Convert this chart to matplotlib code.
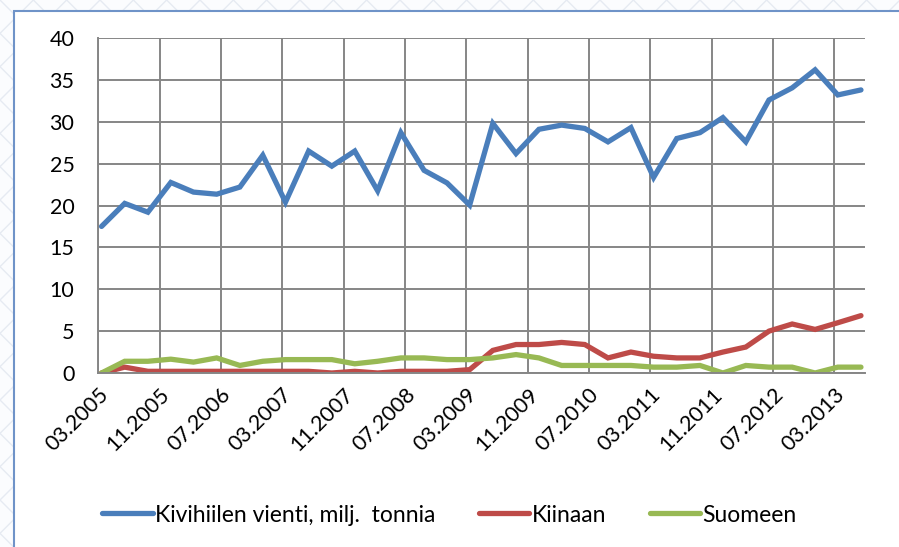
import datetime as dt
import matplotlib
matplotlib.use("Agg")
import matplotlib.pyplot as plt
import matplotlib.dates as mdates
from matplotlib.patches import Rectangle

# quarterly observations 03.2005 ... 06.2013 (mid-month)
months = [dt.date(2005 + (2 + 3 * i) // 12, (2 + 3 * i) % 12 + 1, 15) for i in range(34)]

vienti = [17.5, 20.25, 19.2, 22.75, 21.6, 21.35, 22.2, 26.0, 20.4, 26.5, 24.7, 26.5,
          21.75, 28.7, 24.2, 22.7, 20.05, 29.8, 26.2, 29.1, 29.6, 29.2, 27.6, 29.3,
          23.35, 28.0, 28.7, 30.5, 27.6, 32.6, 34.05, 36.2, 33.2, 33.8]
kiinaan = [0.0, 0.7, 0.2, 0.2, 0.2, 0.2, 0.2, 0.2, 0.2, 0.2, 0.0, 0.2,
           0.0, 0.2, 0.2, 0.2, 0.4, 2.7, 3.4, 3.4, 3.65, 3.4, 1.8, 2.5,
           2.0, 1.8, 1.8, 2.5, 3.1, 5.0, 5.85, 5.2, 6.0, 6.85]
suomeen = [0.0, 1.4, 1.4, 1.65, 1.3, 1.8, 0.9, 1.4, 1.6, 1.6, 1.6, 1.1,
           1.4, 1.8, 1.8, 1.6, 1.6, 1.8, 2.2, 1.8, 0.9, 0.9, 0.9, 0.9,
           0.7, 0.7, 0.9, 0.0, 0.9, 0.7, 0.7, 0.0, 0.7, 0.7]

labels = ["Kivihiilen vienti, milj.  tonnia", "Kiinaan", "Suomeen"]
colors = ["#4a7ebb", "#be4b48", "#98b954"]

tick_dates = [dt.date(2005 + (2 + 8 * i) // 12, (2 + 8 * i) % 12 + 1, 1) for i in range(13)]

plt.rcParams['font.family'] = ['Lato', 'DejaVu Sans']

fig = plt.figure(figsize=(8.99, 5.47), dpi=100)

# patterned background outside the chart frame
bg = Rectangle((0, 0), 1, 1, transform=fig.transFigure, facecolor="#fbfcfe",
               edgecolor="#e6eaf2", hatch="x", linewidth=0, zorder=-10)
fig.patches.append(bg)
frame = Rectangle((14 / 899, -0.05), 1.0, 1 - 11 / 547 + 0.05, transform=fig.transFigure,
                  facecolor="white", edgecolor="#6f93c8", linewidth=1.5, zorder=-5)
fig.patches.append(frame)

ax = fig.add_axes([98 / 899, 174 / 547, (865 - 98) / 899, (373 - 38) / 547])
ax.patch.set_alpha(0)

for vals, lab, col in zip([vienti, kiinaan, suomeen], labels, colors):
    ax.plot(months, vals, color=col, linewidth=3.8, label=lab, solid_capstyle="round",
            solid_joinstyle="miter")

ax.set_xlim(dt.date(2005, 3, 1), dt.date(2013, 7, 1))
ax.set_ylim(0, 40)
ax.set_yticks(range(0, 41, 5))
ax.set_xticks(tick_dates)
ax.xaxis.set_major_formatter(mdates.DateFormatter("%m.%Y"))
for lbl in ax.get_xticklabels():
    lbl.set_rotation(45)
    lbl.set_ha("right")
    lbl.set_rotation_mode("anchor")

ax.grid(True, color="#868686", linewidth=1.4)
ax.set_axisbelow(True)
for side in ["top", "right"]:
    ax.spines[side].set_visible(False)
for side in ["left", "bottom"]:
    ax.spines[side].set_color("#868686")
    ax.spines[side].set_linewidth(1.4)
ax.tick_params(length=0, labelsize=15.5, pad=8)
ax.tick_params(axis="y", pad=17)

fig.legend(loc="center", bbox_to_anchor=(0.5, 32 / 547), ncol=3, frameon=False,
           fontsize=16.5, handlelength=2.2, handletextpad=0.1, columnspacing=1.9)

fig.savefig("out.png", dpi=100)
